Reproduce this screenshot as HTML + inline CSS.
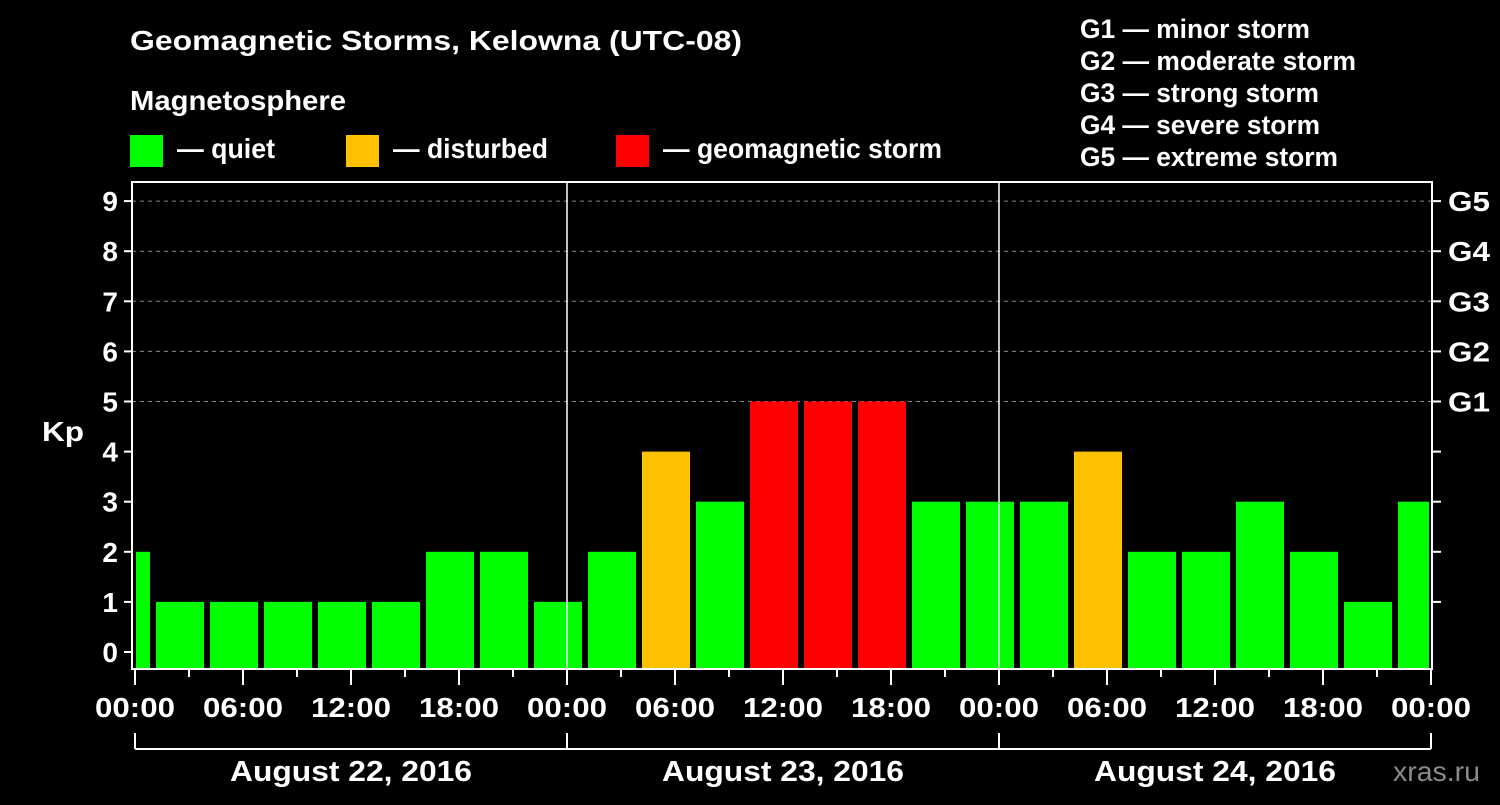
<!DOCTYPE html>
<html><head><meta charset="utf-8"><style>
html,body{margin:0;padding:0;background:#000;}
svg text{font-family:"Liberation Sans",Arial,sans-serif;font-weight:bold;fill:#fff;}
</style></head><body>
<svg id="chart" width="1500" height="800" viewBox="0 0 1500 800" xmlns="http://www.w3.org/2000/svg">
<rect width="1500" height="800" fill="#000"/>
<text x="130" y="50" font-size="28" textLength="612" lengthAdjust="spacingAndGlyphs">Geomagnetic Storms, Kelowna (UTC-08)</text>
<text x="130" y="110" font-size="28" textLength="216" lengthAdjust="spacingAndGlyphs">Magnetosphere</text>
<g>
<rect x="130" y="135" width="33" height="32" fill="#00ff00"/>
<text x="177" y="158" font-size="28" textLength="98" lengthAdjust="spacingAndGlyphs">— quiet</text>
<rect x="346" y="135" width="33" height="32" fill="#ffc000"/>
<text x="393" y="158" font-size="28" textLength="155" lengthAdjust="spacingAndGlyphs">— disturbed</text>
<rect x="616" y="135" width="33" height="32" fill="#ff0000"/>
<text x="663" y="158" font-size="28" textLength="279" lengthAdjust="spacingAndGlyphs">— geomagnetic storm</text>
</g>
<g font-size="27">
<text x="1080" y="38" textLength="230" lengthAdjust="spacingAndGlyphs">G1 — minor storm</text>
<text x="1080" y="70" textLength="276" lengthAdjust="spacingAndGlyphs">G2 — moderate storm</text>
<text x="1080" y="102" textLength="239" lengthAdjust="spacingAndGlyphs">G3 — strong storm</text>
<text x="1080" y="134" textLength="240" lengthAdjust="spacingAndGlyphs">G4 — severe storm</text>
<text x="1080" y="166" textLength="258" lengthAdjust="spacingAndGlyphs">G5 — extreme storm</text>
</g>
<text x="42" y="441" font-size="28" textLength="42" lengthAdjust="spacingAndGlyphs">Kp</text>
<text x="1393" y="781" font-size="28" textLength="87" lengthAdjust="spacingAndGlyphs" style="fill:#8a8a8a;font-weight:normal">xras.ru</text>
<g id="grid"></g><g id="bars"></g><g id="axes"></g>
</svg>
<script>
const kpValues=[2,1,1,1,1,1,2,2,1,2,4,3,5,5,5,3,3,3,4,2,2,3,2,1,3];
const dayLabels=["August 22, 2016","August 23, 2016","August 24, 2016"];
const hourTickLabels=["00:00","06:00","12:00","18:00"];
const gLabels=["G1","G2","G3","G4","G5"];
const yTicks=[0,1,2,3,4,5,6,7,8,9];
const NS="http://www.w3.org/2000/svg";
const L=132,R=1432,T=182,B=669,X0=135,HPX=18;
const y=v=>652-v*50.1;
const x=h=>X0+h*HPX;
function mk(tag,attrs,parent){const e=document.createElementNS(NS,tag);for(const k in attrs)e.setAttribute(k,attrs[k]);document.getElementById(parent).appendChild(e);return e;}
for(let v=5;v<=9;v++){const g=mk('line',{x1:L,x2:R,y1:y(v),y2:y(v),stroke:'#888','stroke-width':1,'stroke-dasharray':'4,4'},'grid');

}
kpValues.forEach((v,i)=>{let h0=-2+3*i,h1=h0+3;let x0=Math.max(x(h0)+3,L+4),x1=Math.min(x(h1)-3,R-3);
const c=v>=5?'#ff0000':(v>=4?'#ffc000':'#00ff00');
const b=mk('rect',{x:x0,y:y(v),width:x1-x0,height:B-1-y(v),fill:c},'bars');

});
const f=mk('rect',{x:L,y:T,width:R-L,height:B-T,fill:'none',stroke:'#fff','stroke-width':2},'axes');


[1,2].forEach(d=>{const s=mk('line',{x1:x(24*d),x2:x(24*d),y1:T,y2:B,stroke:'#fff','stroke-width':1.5},'axes');

});
yTicks.forEach(v=>{const t=mk('line',{x1:L-8,x2:L,y1:y(v),y2:y(v),stroke:'#fff','stroke-width':2},'axes');


const lb=mk('text',{x:L-14,y:y(v)+10,'font-size':28,'text-anchor':'end'},'axes');lb.textContent=v;


if(v>=1&&v<=5){const r=mk('line',{x1:R,x2:R+9,y1:y(v),y2:y(v),stroke:'#fff','stroke-width':2},'axes');

}});
gLabels.forEach((g,i)=>{const r=mk('line',{x1:R,x2:R+9,y1:y(i+5),y2:y(i+5),stroke:'#fff','stroke-width':2},'axes');


const t=mk('text',{x:1448,y:y(i+5)+10,'font-size':28,textLength:42,lengthAdjust:'spacingAndGlyphs'},'axes');t.textContent=g;

});
for(let h=0;h<=72;h+=3){const major=h%6===0;const t=mk('line',{x1:x(h),x2:x(h),y1:B,y2:major?685:677,stroke:'#fff','stroke-width':2},'axes');


if(major){const lb=mk('text',{x:x(h)-40,y:717,'font-size':28,textLength:80,lengthAdjust:'spacingAndGlyphs'},'axes');lb.textContent=hourTickLabels[(h/6)%4];

}}
const bl=mk('line',{x1:x(0),x2:x(72),y1:749,y2:749,stroke:'#fff','stroke-width':2},'axes');


for(let d=0;d<=3;d++){const v=mk('line',{x1:x(24*d),x2:x(24*d),y1:733,y2:749,stroke:'#fff','stroke-width':2},'axes');

}
dayLabels.forEach((d,i)=>{const t=mk('text',{x:x(24*i+12)-121,y:781,'font-size':29,textLength:242,lengthAdjust:'spacingAndGlyphs'},'axes');t.textContent=d;

});
</script>
</body></html>
